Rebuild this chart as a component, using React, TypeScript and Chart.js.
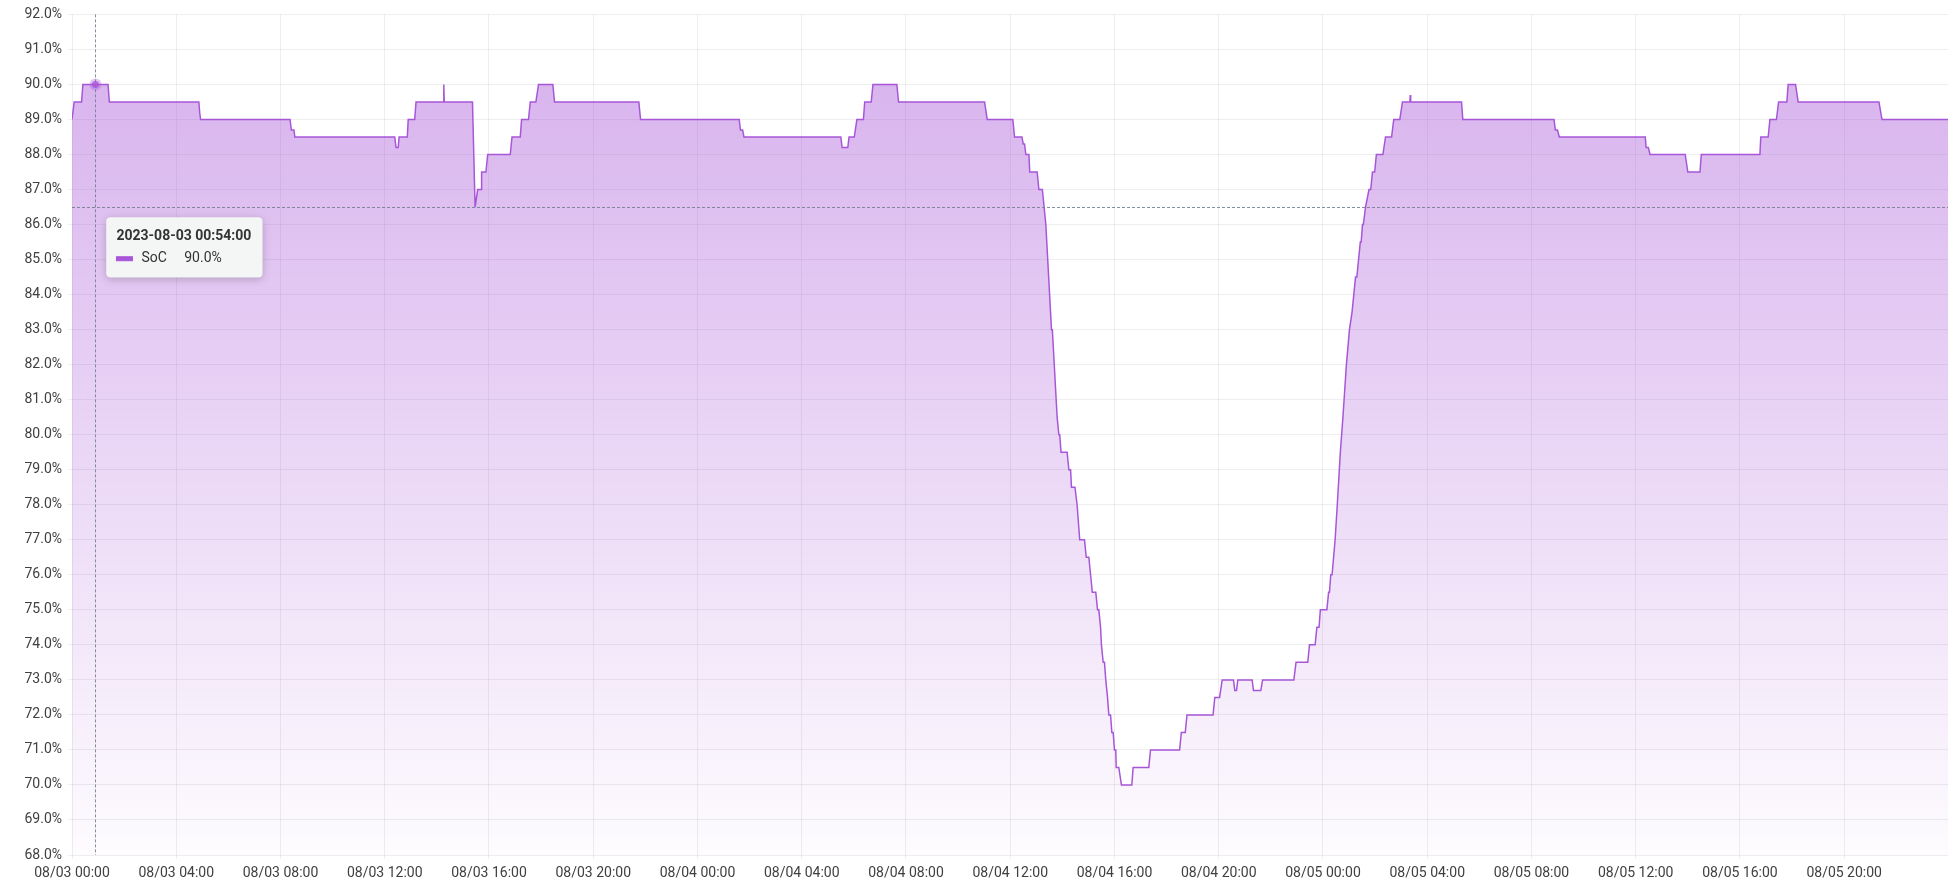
import React, { useEffect, useRef } from 'react';
import { Chart, registerables, Tooltip } from 'chart.js';

Chart.register(...registerables);

// ---- data ----
const startDate = '2023-08-03';
const seriesName = 'SoC';

// minutes since 2023-08-03 00:00
const socMinutes = [
  0, 2, 5, 22, 25, 54, 83, 86, 292, 294, 296, 502, 505, 511, 513, 743, 746, 751, 753, 772,
  774, 789, 792, 855, 856, 857, 922, 928, 934, 942, 943, 953, 957, 1009, 1013, 1032, 1035, 1051, 1055, 1068,
  1074, 1107, 1111, 1305, 1309, 1536, 1539, 1544, 1547, 1770, 1773, 1786, 1789, 1801, 1807, 1822, 1825, 1840, 1844, 1899,
  1903, 2101, 2107, 2166, 2170, 2187, 2190, 2193, 2196, 2203, 2205, 2222, 2226, 2234, 2238, 2242, 2255, 2257, 2268, 2272,
  2274, 2277, 2291, 2295, 2299, 2301, 2309, 2314, 2317, 2320, 2331, 2335, 2341, 2345, 2349, 2357, 2361, 2364, 2368, 2370,
  2374, 2377, 2380, 2384, 2387, 2391, 2394, 2397, 2400, 2403, 2404, 2410, 2416, 2440, 2443, 2479, 2483, 2550, 2554, 2563,
  2567, 2627, 2631, 2642, 2648, 2674, 2677, 2681, 2684, 2717, 2720, 2737, 2741, 2813, 2818, 2845, 2849, 2862, 2866, 2871,
  2874, 2889, 2893, 2895, 2898, 2901, 2908, 2913, 2920, 2926, 2934, 2941, 2947, 2951, 2955, 2958, 2962, 2966, 2968, 2971,
  2973, 2978, 2986, 2990, 2994, 2999, 3003, 3018, 3024, 3038, 3043, 3057, 3063, 3080, 3081, 3082, 3199, 3202, 3412, 3415,
  3420, 3424, 3622, 3624, 3629, 3633, 3714, 3720, 3748, 3751, 3886, 3888, 3905, 3909, 3924, 3929, 3948, 3951, 3968, 3974,
  4160, 4167, 4319,
];

const socValues = [
  89.0, 89.0, 89.5, 89.5, 90.0, 90.0, 90.0, 89.5, 89.5, 89.2, 89.0, 89.0, 88.7, 88.7, 88.5, 88.5, 88.2, 88.2, 88.5, 88.5,
  89.0, 89.0, 89.5, 89.5, 90.0, 89.5, 89.5, 86.5, 87.0, 87.0, 87.5, 87.5, 88.0, 88.0, 88.5, 88.5, 89.0, 89.0, 89.5, 89.5,
  90.0, 90.0, 89.5, 89.5, 89.0, 89.0, 88.7, 88.7, 88.5, 88.5, 88.2, 88.2, 88.5, 88.5, 89.0, 89.0, 89.5, 89.5, 90.0, 90.0,
  89.5, 89.5, 89.0, 89.0, 88.5, 88.5, 88.3, 88.3, 88.0, 88.0, 87.5, 87.5, 87.0, 87.0, 86.5, 86.0, 83.0, 83.0, 80.5, 80.0,
  80.0, 79.5, 79.5, 79.0, 79.0, 78.5, 78.5, 78.0, 77.5, 77.0, 77.0, 76.5, 76.5, 76.0, 75.5, 75.5, 75.0, 75.0, 74.5, 74.0,
  73.5, 73.5, 73.0, 72.5, 72.0, 72.0, 71.5, 71.5, 71.0, 71.0, 70.5, 70.5, 70.0, 70.0, 70.5, 70.5, 71.0, 71.0, 71.5, 71.5,
  72.0, 72.0, 72.5, 72.5, 73.0, 73.0, 72.7, 72.7, 73.0, 73.0, 72.7, 72.7, 73.0, 73.0, 73.5, 73.5, 74.0, 74.0, 74.5, 74.5,
  75.0, 75.0, 75.5, 75.5, 76.0, 76.0, 77.0, 78.0, 79.5, 80.5, 82.0, 83.0, 83.5, 84.0, 84.5, 84.5, 85.0, 85.5, 85.5, 86.0,
  86.0, 86.5, 87.0, 87.0, 87.5, 87.5, 88.0, 88.0, 88.5, 88.5, 89.0, 89.0, 89.5, 89.5, 89.7, 89.5, 89.5, 89.0, 89.0, 88.7,
  88.7, 88.5, 88.5, 88.2, 88.2, 88.0, 88.0, 87.5, 87.5, 88.0, 88.0, 88.5, 88.5, 89.0, 89.0, 89.5, 89.5, 90.0, 90.0, 89.5,
  89.5, 89.0, 89.0,
];

const xTickLabels = [
  '08/03 00:00', '08/03 04:00', '08/03 08:00', '08/03 12:00', '08/03 16:00', '08/03 20:00',
  '08/04 00:00', '08/04 04:00', '08/04 08:00', '08/04 12:00', '08/04 16:00', '08/04 20:00',
  '08/05 00:00', '08/05 04:00', '08/05 08:00', '08/05 12:00', '08/05 16:00', '08/05 20:00',
];
const xTickStepMinutes = 240;
const xMaxMinutes = 4319;
const yMin = 68;
const yMax = 92;

// hovered state shown in the reference
const hoverMinute = 54;
const cursorValue = 86.5;

// ---- styles ----
const LINE = 'rgb(168, 86, 216)';
const pad2 = (n: number) => String(n).padStart(2, '0');
function fmtTime(m: number) {
  const d = new Date(new Date(startDate + 'T00:00:00Z').getTime() + m * 60000);
  return `${d.getUTCFullYear()}-${pad2(d.getUTCMonth() + 1)}-${pad2(d.getUTCDate())} ${pad2(d.getUTCHours())}:${pad2(d.getUTCMinutes())}:${pad2(d.getUTCSeconds())}`;
}

(Tooltip as any).positioners.cursorOffset = function (items: any[], pos: any) {
  if (!items.length || !pos) return false;
  return { x: pos.x + 15, y: pos.y + 10.5, xAlign: 'left', yAlign: 'top' };
};

export default function App() {
  const ref = useRef<HTMLCanvasElement | null>(null);

  useEffect(() => {
    document.body.style.margin = '0';
    document.body.style.overflow = 'hidden';
    const canvas = ref.current!;
    const hoverIndex = socMinutes.indexOf(hoverMinute);

    const crosshair = {
      id: 'crosshair',
      afterDatasetsDraw(chart: any) {
        const { ctx, chartArea, scales } = chart;
        const px = scales.x.getPixelForValue(socMinutes[hoverIndex]);
        const py = scales.y.getPixelForValue(socValues[hoverIndex]);
        const cy = scales.y.getPixelForValue(cursorValue);
        ctx.save();
        ctx.strokeStyle = 'rgba(110, 125, 140, 0.85)';
        ctx.lineWidth = 1;
        ctx.setLineDash([3, 2]);
        ctx.beginPath();
        ctx.moveTo(Math.round(px) + 0.5, chartArea.top);
        ctx.lineTo(Math.round(px) + 0.5, chartArea.bottom);
        ctx.moveTo(chartArea.left, Math.round(cy) + 0.5);
        ctx.lineTo(chartArea.right, Math.round(cy) + 0.5);
        ctx.stroke();
        ctx.setLineDash([]);
        ctx.fillStyle = 'rgba(168, 86, 216, 0.35)';
        ctx.beginPath();
        ctx.arc(px, py, 6, 0, Math.PI * 2);
        ctx.fill();
        ctx.fillStyle = 'rgba(168, 86, 216, 0.8)';
        ctx.beginPath();
        ctx.arc(px, py, 3.5, 0, Math.PI * 2);
        ctx.fill();
        ctx.restore();
      },
      beforeTooltipDraw(chart: any, args: any) {
        const tt = args.tooltip;
        if (!tt || !tt.opacity) return;
        const ctx = chart.ctx;
        ctx.save();
        ctx.shadowColor = 'rgba(0,0,0,0.22)';
        ctx.shadowBlur = 10;
        ctx.shadowOffsetY = 2;
        ctx.fillStyle = '#f4f5f5';
        ctx.beginPath();
        ctx.roundRect(tt.x, tt.y, tt.width, tt.height, 4);
        ctx.fill();
        ctx.restore();
      },
    };

    const chart = new Chart(canvas, {
      type: 'line',
      data: {
        datasets: [
          {
            label: seriesName,
            data: socMinutes.map((m, i) => ({ x: m, y: socValues[i] })),
            borderColor: LINE,
            borderWidth: 1.5,
            pointRadius: 0,
            pointHoverRadius: 0,
            tension: 0,
            fill: 'start',
            backgroundColor: (c: any) => {
              const { chart: ch } = c;
              const area = ch.chartArea;
              if (!area) return 'rgba(168,86,216,0.3)';
              const top = ch.scales.y.getPixelForValue(90);
              const g = ch.ctx.createLinearGradient(0, top, 0, area.bottom);
              g.addColorStop(0, 'rgba(168, 86, 216, 0.44)');
              g.addColorStop(1, 'rgba(168, 86, 216, 0.02)');
              return g;
            },
          },
        ],
      },
      options: {
        animation: false,
        responsive: false,
        devicePixelRatio: 1,
        events: [],
        layout: { padding: { top: 11, right: 8, left: 0, bottom: 0 } },
        font: { family: 'Roboto', size: 14 },
        scales: {
          x: {
            type: 'linear',
            min: 0,
            max: xMaxMinutes,
            afterBuildTicks: (scale: any) => {
              scale.ticks = xTickLabels.map((_, i) => ({ value: i * xTickStepMinutes }));
            },
            afterFit: (scale: any) => {
              scale.height = 29;
            },
            grid: { color: 'rgba(0,0,0,0.065)', tickLength: 4, drawTicks: true },
            border: { display: false },
            ticks: {
              autoSkip: false,
              maxRotation: 0,
              padding: 6,
              color: '#404040',
              font: { family: 'Roboto', size: 14 },
              callback: (v: any) => xTickLabels[Math.round(Number(v) / xTickStepMinutes)] ?? '',
            },
          },
          y: {
            min: yMin,
            max: yMax,
            afterFit: (scale: any) => {
              scale.width = 72;
            },
            grid: { color: 'rgba(0,0,0,0.065)', tickLength: 4, drawTicks: true },
            border: { display: false },
            ticks: {
              stepSize: 1,
              padding: 6,
              color: '#404040',
              font: { family: 'Roboto', size: 14 },
              callback: (v: any) => Number(v).toFixed(1) + '%',
            },
          },
        },
        plugins: {
          legend: { display: false },
          title: { display: false },
          tooltip: {
            enabled: true,
            position: 'cursorOffset' as any,
            backgroundColor: '#f4f5f5',
            titleColor: '#333333',
            bodyColor: '#333333',
            titleFont: { family: 'Roboto', size: 14, weight: 'bold' },
            bodyFont: { family: 'Roboto', size: 14 },
            padding: { top: 11, bottom: 10, left: 10, right: 11 } as any,
            titleMarginBottom: 5,
            cornerRadius: 4,
            caretSize: 0,
            caretPadding: 0,
            displayColors: true,
            multiKeyBackground: LINE,
            boxWidth: 16,
            boxHeight: 4,
            boxPadding: 7,
            callbacks: {
              title: (items: any[]) => fmtTime(items[0].parsed.x),
              label: (item: any) => `${seriesName}     ${item.parsed.y.toFixed(1)}%`,
              labelColor: () => ({ borderColor: LINE, backgroundColor: LINE, borderWidth: 1, borderRadius: 0 }),
            },
          },
        },
      },
      plugins: [crosshair],
    });

    const ex = chart.scales.x.getPixelForValue(socMinutes[hoverIndex]);
    const ey = chart.scales.y.getPixelForValue(cursorValue);
    chart.tooltip!.setActiveElements([{ datasetIndex: 0, index: hoverIndex }], { x: ex, y: ey });
    chart.update();

    return () => chart.destroy();
  }, []);

  return (
    <div style={{ width: 1956, height: 884, background: '#fff' }}>
      <canvas ref={ref} width={1956} height={884} style={{ display: 'block' }} />
    </div>
  );
}
